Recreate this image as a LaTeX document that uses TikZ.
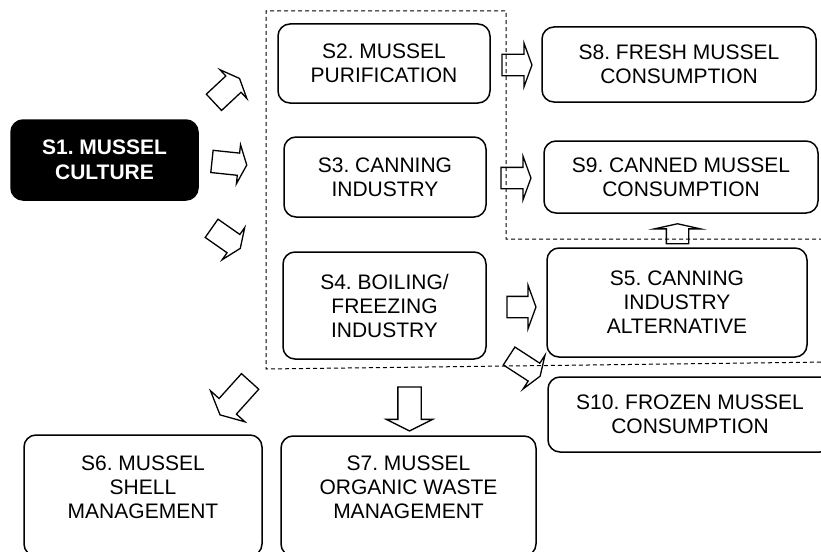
\documentclass[tikz,border=0pt]{standalone}
\usepackage{fontspec}
\setsansfont{Liberation Sans}
\usetikzlibrary{shapes.arrows}

\newcommand{\padbelow}{\rule[-17pt]{0pt}{0pt}}
\frenchspacing

\begin{document}
\begin{tikzpicture}[
  x=1pt, y=-1pt,
  font=\sffamily\fontsize{21}{24}\selectfont,
  stage/.style={rectangle, rounded corners=12pt, draw=black, line width=1.5pt,
                align=center, inner sep=2pt},
  start/.style={stage, fill=black, text=white,
                font=\sffamily\bfseries\fontsize{21}{25}\selectfont},
  blk/.style={single arrow, draw=black, line width=1.3pt, inner xsep=0pt, inner ysep=10pt,
              minimum height=#1, single arrow head extend=11pt,
              single arrow tip angle=140},
  zone/.style={dash pattern=on 4pt off 3pt, line width=1pt, draw=black},
]
\useasboundingbox (0,0) rectangle (821,551);
\clip (0,0) rectangle (821,551);

% =========================== dashed zone ===========================
\draw[zone] (830,239) -- (506,239) -- (506,11) -- (266,11) -- (266,369) -- (830,362);

% =========================== stages ===========================
\node[start, minimum width=187pt, minimum height=80pt] (s1) at (104.5,160) {S1. MUSSEL\\CULTURE};

\node[stage, minimum width=212pt, minimum height=79pt]  (s2) at (384,63.5)   {S2. MUSSEL\\PURIFICATION};
\node[stage, minimum width=202pt, minimum height=80pt]  (s3) at (385,177)    {S3. CANNING\\INDUSTRY};
\node[stage, minimum width=203pt, minimum height=107pt] (s4) at (384.5,305.5) {S4. BOILING/\\FREEZING\\INDUSTRY};

\node[stage, minimum width=274pt, minimum height=75pt]  (s8)  at (679,64.5)  {S8. FRESH MUSSEL\\CONSUMPTION};
\node[stage, minimum width=274pt, minimum height=72pt]  (s9)  at (681,177)   {S9. CANNED MUSSEL\\CONSUMPTION};
\node[stage, minimum width=260pt, minimum height=109pt] (s5)  at (677,302.5) {S5. CANNING\\INDUSTRY\\ALTERNATIVE};
\node[stage, minimum width=284pt, minimum height=75pt]  (s10) at (690,414.5) {S10. FROZEN MUSSEL\\CONSUMPTION};

\node[stage, minimum width=238pt, minimum height=121pt] (s6) at (143,495.5) {S6. MUSSEL\\SHELL\\MANAGEMENT\padbelow};
\node[stage, minimum width=255pt, minimum height=120pt] (s7) at (408.5,496) {S7. MUSSEL\\ORGANIC WASTE\\MANAGEMENT\padbelow};

% =========================== block arrows ===========================
% out of S1
\node[blk=35pt, inner ysep=10.5pt, single arrow head extend=8.5pt, single arrow tip angle=134, rotate=43]  (a12) at (225,92)  {};
\node[blk=35pt, inner ysep=10.5pt, single arrow head extend=8.5pt, single arrow tip angle=134, rotate=-6]  (a13) at (227,163) {};
\node[blk=35pt, inner ysep=10.5pt, single arrow head extend=8.5pt, single arrow tip angle=134, rotate=-35] (a14) at (224,237) {};

% into consumption / alternative
\node[blk=30pt] (a28) at (515,65)    {};
\node[blk=30pt] (a39) at (514,178)   {};
\node[blk=29pt] (a45) at (519.5,307) {};
\node[blk=37pt, single arrow head extend=9.5pt, rotate=-33] (a410) at (523,365) {};
\node[blk=20pt, inner ysep=10.5pt, single arrow head extend=12pt, single arrow tip angle=155, rotate=90] (a59) at (677.5,235) {};

% waste management
\node[blk=45pt, inner ysep=11pt, single arrow head extend=11.5pt, single arrow tip angle=127, rotate=228] (a46) at (237,396)   {};
\node[blk=44pt, inner ysep=11pt, single arrow head extend=11.5pt, single arrow tip angle=127, rotate=-90] (a47) at (409.5,406) {};

\end{tikzpicture}
\end{document}
